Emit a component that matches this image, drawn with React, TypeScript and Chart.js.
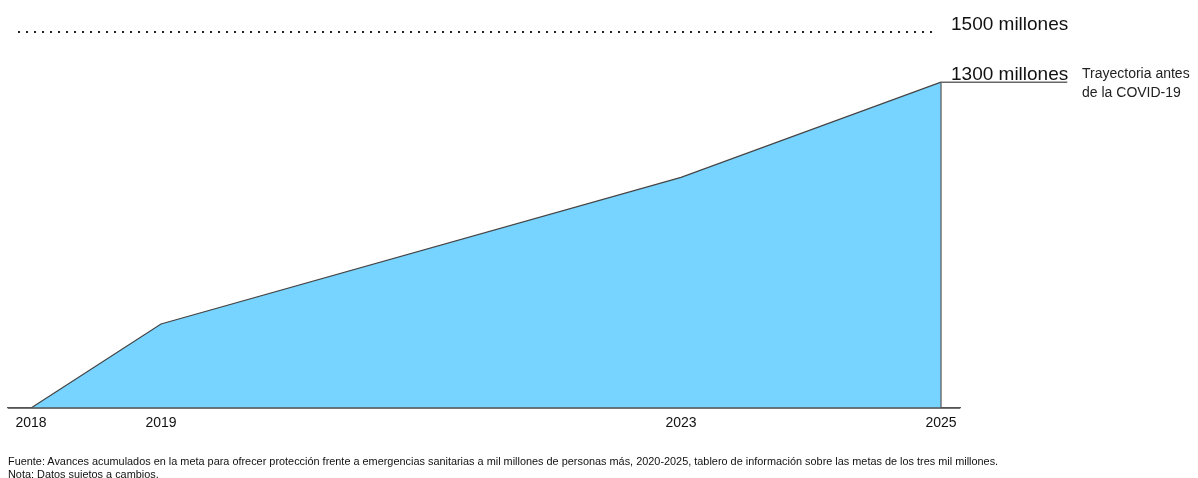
import React, { useEffect, useRef } from "react";
import { Chart, registerables } from "chart.js";

Chart.register(...registerables);

const years = [2018, 2019, 2023, 2025];
const progress = [0, 335, 920, 1300];
const tickYears = [2018, 2019, 2023, 2025];
const targetValue = 1500;
const preCovidValue = 1300;
const targetLabel = "1500 millones";
const preCovidLabel = "1300 millones";
const preCovidNote = ["Trayectoria antes", "de la COVID-19"];
const footnotes = [
  "Fuente: Avances acumulados en la meta para ofrecer protección frente a emergencias sanitarias a mil millones de personas más, 2020-2025, tablero de información sobre las metas de los tres mil millones.",
  "Nota: Datos sujetos a cambios.",
];

const FONT = '"Liberation Sans", Arial, sans-serif';

const annotationPlugin = {
  id: "annotations",
  afterDatasetsDraw(chart: any) {
    const { ctx, scales, chartArea } = chart;
    const x = scales.x;
    const y = scales.y;
    const lastYear = years[years.length - 1];
    const lastVal = progress[progress.length - 1];
    const xEnd = x.getPixelForValue(lastYear);
    const yTop = y.getPixelForValue(lastVal);
    const yBase = y.getPixelForValue(0);
    ctx.save();
    // vertical closing edge
    ctx.strokeStyle = "#555";
    ctx.lineWidth = 1.2;
    ctx.beginPath();
    ctx.moveTo(xEnd, yTop);
    ctx.lineTo(xEnd, yBase);
    ctx.stroke();

    // baseline drawn above the fill
    ctx.strokeStyle = "#555";
    ctx.lineWidth = 1.3;
    ctx.beginPath();
    ctx.moveTo(chartArea.left, yBase);
    ctx.lineTo(chartArea.right, yBase);
    ctx.stroke();

    // target dotted line
    const yT = Math.round(y.getPixelForValue(targetValue));
    ctx.strokeStyle = "#222";
    ctx.lineWidth = 2;
    ctx.setLineDash([2, 6]);
    ctx.beginPath();
    ctx.moveTo(chartArea.left + 10, yT);
    ctx.lineTo(xEnd - 7, yT);
    ctx.stroke();
    ctx.setLineDash([]);

    // labels
    ctx.fillStyle = "#111";
    ctx.font = `19px ${FONT}`;
    ctx.textAlign = "left";
    ctx.textBaseline = "alphabetic";
    ctx.fillText(targetLabel, xEnd + 10, yT - 2);
    const yP = y.getPixelForValue(preCovidValue);
    ctx.fillText(preCovidLabel, xEnd + 10, yP - 2);
    const w = ctx.measureText(preCovidLabel).width;
    ctx.strokeStyle = "#666";
    ctx.lineWidth = 1.5;
    ctx.beginPath();
    ctx.moveTo(xEnd, yP);
    ctx.lineTo(xEnd + 9 + w, yP);
    ctx.stroke();

    ctx.font = `14px ${FONT}`;
    ctx.fillStyle = "#222";
    ctx.textBaseline = "middle";
    ctx.fillText(preCovidNote[0], xEnd + 141, yP - 8);
    ctx.fillText(preCovidNote[1], xEnd + 141, yP + 11);
    ctx.restore();
  },
};

export default function App() {
  const ref = useRef<HTMLCanvasElement | null>(null);
  useEffect(() => {
    document.body.style.margin = "0";
    const canvas = ref.current;
    if (!canvas) return;
    const chart = new Chart(canvas, {
      type: "line",
      data: {
        datasets: [
          {
            data: years.map((yr, i) => ({ x: yr, y: progress[i] })),
            fill: "origin",
            backgroundColor: "#77D3FF",
            borderColor: "#444",
            borderWidth: 1.2,
            pointRadius: 0,
            tension: 0,
          },
        ],
      },
      options: {
        responsive: false,
        animation: false,
        devicePixelRatio: 1,
        layout: { padding: { left: 8, right: 238, top: 32, bottom: 0 } },
        plugins: { legend: { display: false }, tooltip: { enabled: false } },
        scales: {
          x: {
            type: "linear",
            min: 2017.823,
            max: 2025.146,
            grid: { display: false, drawTicks: false },
            border: { display: true, color: "#555", width: 1.2 },
            afterBuildTicks(scale: any) {
              scale.ticks = tickYears.map((v) => ({ value: v }));
            },
            afterFit(scale: any) {
              scale.height = 70;
            },
            ticks: {
              padding: 7,
              color: "#111",
              font: { family: FONT, size: 14 },
              callback: (v: any) => String(v),
              maxRotation: 0,
              autoSkip: false,
            },
          },
          y: {
            display: false,
            min: 0,
            max: 1500,
          },
        },
      },
      plugins: [annotationPlugin],
    });
    return () => chart.destroy();
  }, []);

  return (
    <div style={{ position: "relative", width: 1198, height: 478 }}>
      <canvas ref={ref} width={1198} height={478} style={{ position: "absolute", left: 0, top: 0 }} />
      <div
        style={{
          position: "absolute",
          left: 8,
          top: 455,
          fontFamily: FONT,
          fontSize: 10.9,
          lineHeight: "13px",
          color: "#111",
          whiteSpace: "nowrap",
        }}
      >
        {footnotes.map((t, i) => (
          <div key={i}>{t}</div>
        ))}
      </div>
    </div>
  );
}
